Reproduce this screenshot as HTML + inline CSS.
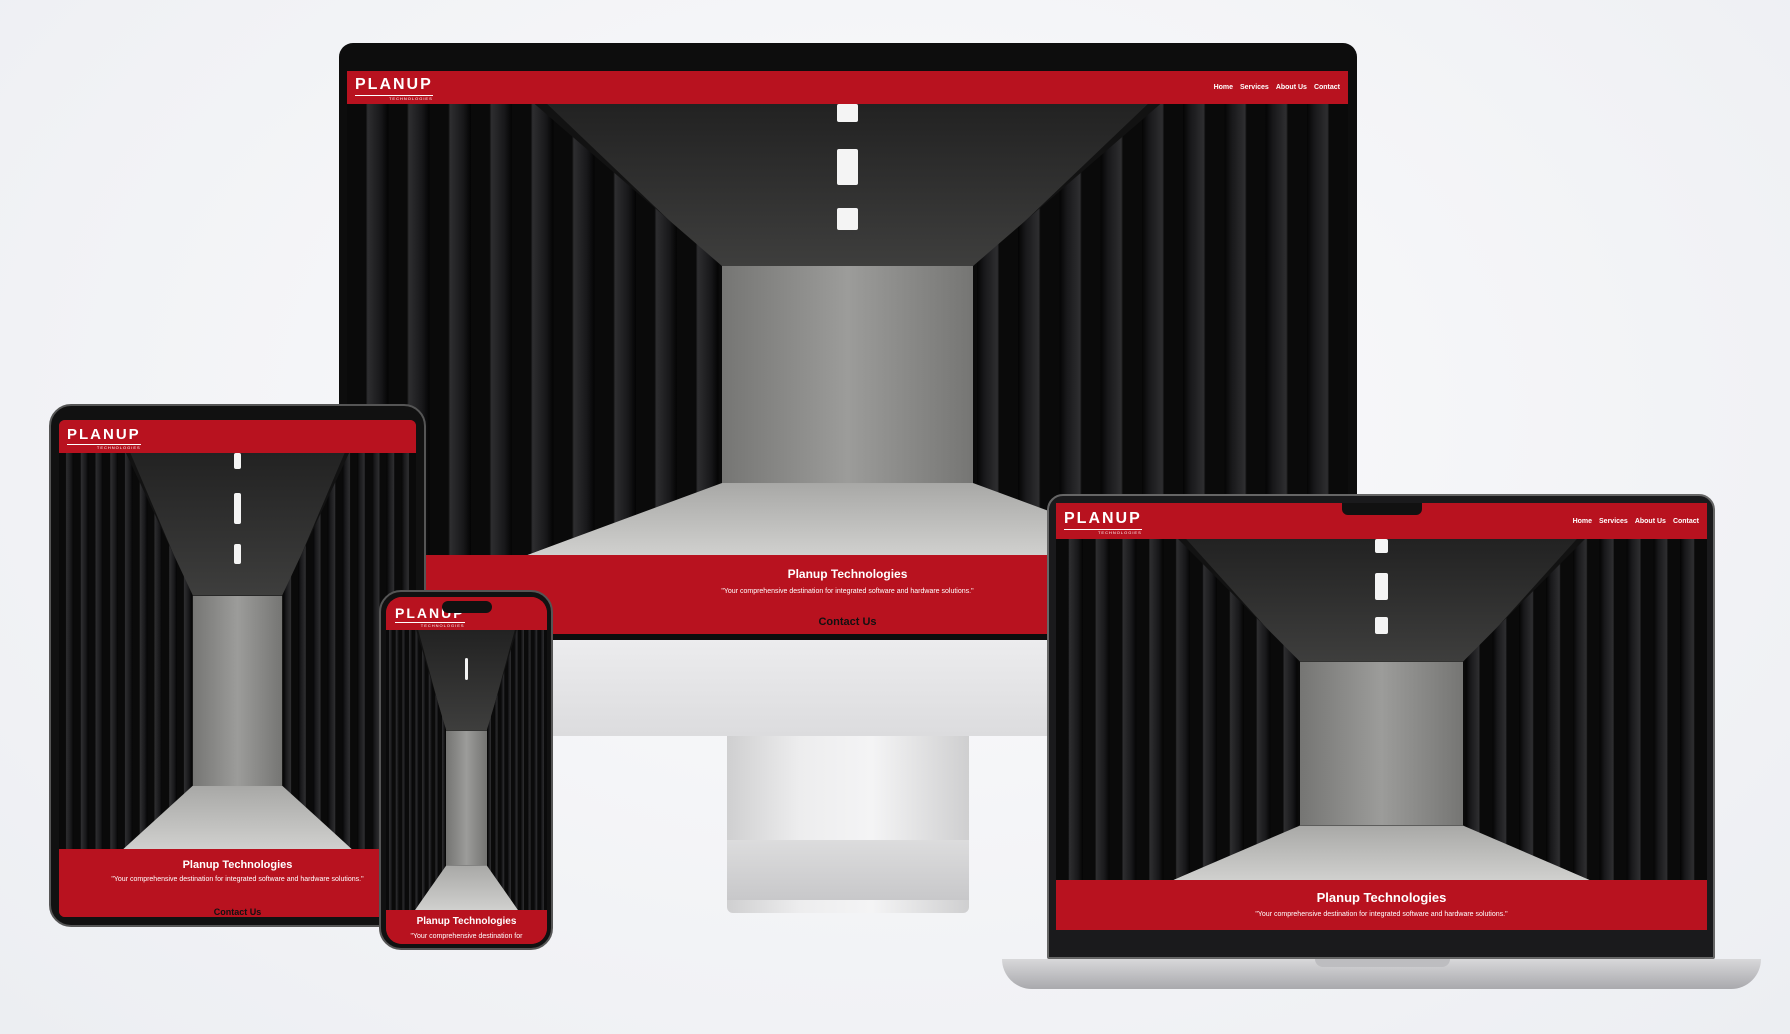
<!DOCTYPE html>
<html><head><meta charset="utf-8"><style>
*{margin:0;padding:0;box-sizing:border-box}
body{width:1790px;height:1034px;overflow:hidden;background:radial-gradient(ellipse at 50% 40%,#fbfbfd 0%,#f1f2f5 70%,#eceef2 100%);font-family:"Liberation Sans",sans-serif;position:relative}
.a{position:absolute}
.room{position:absolute;overflow:hidden;background:#121212}
.room div{position:absolute}
.ceil{left:0;top:0;width:100%;height:36%;clip-path:polygon(20% 0,80% 0,63% 100%,37% 100%);background:linear-gradient(#222,#3e3e3d)}
.wall{left:37%;top:36%;width:26%;height:48%;background:linear-gradient(90deg,#747472,#9c9c9a 50%,#747472)}
.floor{left:0;top:84%;width:100%;height:16%;clip-path:polygon(37% 0,63% 0,82% 100%,18% 100%);background:linear-gradient(#a8a8a6,#d0d0ce)}
.rl{left:0;top:0;width:37.5%;height:100%;clip-path:polygon(0 0,50% 0,100% 36%,100% 84%,48% 100%,0 100%);background:repeating-linear-gradient(90deg,#0a0a0a 0,#0a0a0a 5%,#2e2e30 5.5%,#18181a 9%,#040404 11%)}
.rr{right:0;top:0;width:37.5%;height:100%;clip-path:polygon(50% 0,100% 0,100% 100%,52% 100%,0 84%,0 36%);background:repeating-linear-gradient(270deg,#0a0a0a 0,#0a0a0a 5%,#2e2e30 5.5%,#18181a 9%,#040404 11%)}
.lt{left:49%;width:2%;background:#f4f4f4;border-radius:2px}
.hdr{position:absolute;left:0;top:0;width:100%;background:#b8121f;color:#fff}
.logo{position:absolute;font-weight:bold;letter-spacing:2px;color:#fff;line-height:1}
.logo small{display:block;font-size:4px;letter-spacing:1px;font-weight:normal;text-align:right;border-top:1px solid #fff;margin-top:2px;padding-top:1px}
.nav{position:absolute;right:8px;color:#fff;font-size:7px;font-weight:bold}
.nav span{margin-left:7px}
.red{position:absolute;left:0;width:100%;background:#b8121f;color:#fff;text-align:center}
</style></head><body>

<!-- Monitor -->
<div class="a" style="left:727px;top:736px;width:242px;height:177px;background:linear-gradient(90deg,#cfcfd0,#ededee 30%,#f4f4f5 60%,#cfcfd0);border-radius:0 0 6px 6px"></div>
<div class="a" style="left:727px;top:840px;width:242px;height:60px;background:linear-gradient(#dcdcdd,#c8c8ca)"></div>
<div class="a" style="left:339px;top:639px;width:1018px;height:97px;background:linear-gradient(#ececee,#dcdcde);border-radius:0 0 14px 14px"></div>
<div class="a" style="left:339px;top:43px;width:1018px;height:597px;background:#0d0d0d;border-radius:14px 14px 0 0"></div>
<div class="a" style="left:347px;top:71px;width:1001px;height:563px;overflow:hidden;background:#b8121f">
  <div class="hdr" style="height:33px"><div class="logo" style="left:8px;top:6px;font-size:16px">PLANUP<small>TECHNOLOGIES</small></div>
  <div class="nav" style="top:13px"><span>Home</span><span>Services</span><span>About Us</span><span>Contact</span></div></div>
  <div class="room" style="left:0;top:33px;width:1001px;height:451px"><div class="ceil"></div><div class="wall"></div><div class="floor"></div><div class="rl"></div><div class="rr"></div>
   <div class="lt" style="top:0;height:4%"></div><div class="lt" style="top:10%;height:8%"></div><div class="lt" style="top:23%;height:5%"></div></div>
  <div class="red" style="top:484px;height:80px"><div style="margin-top:12px;font-size:12px;font-weight:bold">Planup Technologies</div>
  <div style="margin-top:7px;font-size:7px">"Your comprehensive destination for integrated software and hardware solutions."</div>
  <div style="margin-top:21px;font-size:11px;font-weight:bold;color:#111">Contact Us</div></div>
</div>

<!-- Tablet -->
<div class="a" style="left:49px;top:404px;width:377px;height:523px;background:#111;border-radius:22px;border:2px solid #555"></div>
<div class="a" style="left:59px;top:420px;width:357px;height:497px;overflow:hidden;background:#b8121f;border-radius:6px">
  <div class="hdr" style="height:33px"><div class="logo" style="left:8px;top:7px;font-size:15px">PLANUP<small>TECHNOLOGIES</small></div></div>
  <div class="room" style="left:0;top:33px;width:357px;height:396px"><div class="ceil"></div><div class="wall"></div><div class="floor"></div><div class="rl"></div><div class="rr"></div>
   <div class="lt" style="top:0;height:4%"></div><div class="lt" style="top:10%;height:8%"></div><div class="lt" style="top:23%;height:5%"></div></div>
  <div class="red" style="top:429px;height:70px"><div style="margin-top:10px;font-size:11px;font-weight:bold">Planup Technologies</div>
  <div style="margin-top:5px;font-size:7px">"Your comprehensive destination for integrated software and hardware solutions."</div>
  <div style="margin-top:24px;font-size:9px;font-weight:bold;color:#111">Contact Us</div></div>
</div>

<!-- Phone -->
<div class="a" style="left:379px;top:590px;width:174px;height:360px;background:#111;border-radius:22px;border:2px solid #555"></div>
<div class="a" style="left:386px;top:597px;width:161px;height:347px;overflow:hidden;background:#b8121f;border-radius:16px">
  <div class="hdr" style="height:33px"><div class="logo" style="left:9px;top:9px;font-size:14px">PLANUP<small>TECHNOLOGIES</small></div></div>
  <div class="room" style="left:0;top:33px;width:161px;height:280px"><div class="ceil"></div><div class="wall"></div><div class="floor"></div><div class="rl"></div><div class="rr"></div>
   <div class="lt" style="top:10%;height:8%"></div></div>
  <div class="red" style="top:313px;height:40px"><div style="margin-top:6px;font-size:10px;font-weight:bold">Planup Technologies</div>
  <div style="margin-top:6px;font-size:7px">"Your comprehensive destination for</div></div>
  <div class="a" style="left:56px;top:4px;width:50px;height:12px;background:#111;border-radius:6px"></div>
</div>

<!-- Laptop -->
<div class="a" style="left:1002px;top:959px;width:759px;height:30px;background:linear-gradient(#d8d8da,#a9a9ad);border-radius:0 0 30px 30px"></div>
<div class="a" style="left:1315px;top:959px;width:135px;height:8px;background:#bdbdc0;border-radius:0 0 8px 8px"></div>
<div class="a" style="left:1047px;top:494px;width:668px;height:465px;background:#1a1a1c;border-radius:16px 16px 2px 2px;border:2px solid #666"></div>
<div class="a" style="left:1056px;top:503px;width:651px;height:427px;overflow:hidden;background:#b8121f">
  <div class="hdr" style="height:36px"><div class="logo" style="left:8px;top:8px;font-size:16px">PLANUP<small>TECHNOLOGIES</small></div>
  <div class="nav" style="top:15px"><span>Home</span><span>Services</span><span>About Us</span><span>Contact</span></div></div>
  <div class="room" style="left:0;top:36px;width:651px;height:341px"><div class="ceil"></div><div class="wall"></div><div class="floor"></div><div class="rl"></div><div class="rr"></div>
   <div class="lt" style="top:0;height:4%"></div><div class="lt" style="top:10%;height:8%"></div><div class="lt" style="top:23%;height:5%"></div></div>
  <div class="red" style="top:377px;height:50px"><div style="margin-top:10px;font-size:13px;font-weight:bold">Planup Technologies</div>
  <div style="margin-top:6px;font-size:7px">"Your comprehensive destination for integrated software and hardware solutions."</div></div>
  <div class="a" style="left:286px;top:0;width:80px;height:12px;background:#111;border-radius:0 0 6px 6px"></div>
</div>
</body></html>
